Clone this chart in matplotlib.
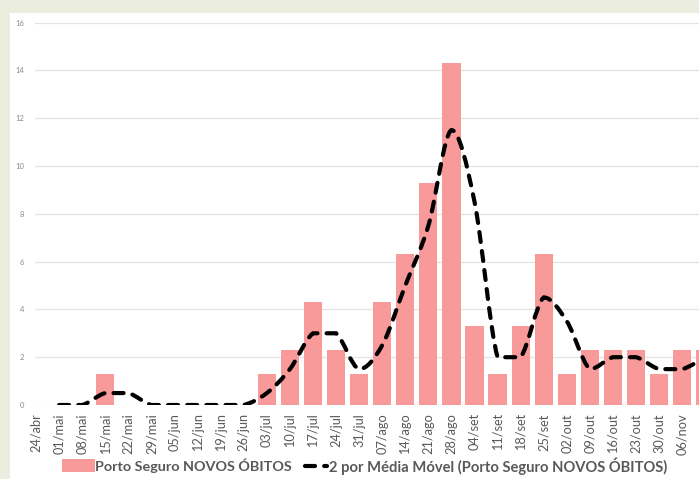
import matplotlib
matplotlib.use('Agg')
import matplotlib.pyplot as plt
from matplotlib.path import Path
from matplotlib.patches import PathPatch, Rectangle
from matplotlib.lines import Line2D

categories = ['24/abr', '01/mai', '08/mai', '15/mai', '22/mai', '29/mai', '05/jun',
              '12/jun', '19/jun', '26/jun', '03/jul', '10/jul', '17/jul', '24/jul',
              '31/jul', '07/ago', '14/ago', '21/ago', '28/ago', '04/set', '11/set',
              '18/set', '25/set', '02/out', '09/out', '16/out', '23/out', '30/out',
              '06/nov', '13/nov']
novos_obitos = [0, 0, 0, 1.3, 0, 0, 0, 0, 0, 0, 1.3, 2.3, 4.3, 2.3, 1.3, 4.3, 6.3,
                9.3, 14.3, 3.3, 1.3, 3.3, 6.3, 1.3, 2.3, 2.3, 2.3, 1.3, 2.3, 2.3]
# moving average starts at second category
media_movel = [0, 0, 0.5, 0.5, 0, 0, 0, 0, 0, 0.5, 1.5, 3, 3, 1.5, 2.5, 5, 7.5,
               11.5, 8.5, 2, 2, 4.5, 3.5, 1.5, 2, 2, 1.5, 1.5, 2]
yticks = [0, 2, 4, 6, 8, 10, 12, 14, 16]

legend_bar = 'Porto Seguro NOVOS ÓBITOS'
legend_line = '2 por Média Móvel (Porto Seguro NOVOS ÓBITOS)'

W, H = 699, 479
fig = plt.figure(figsize=(W / 100, H / 100), dpi=100)
fig.patch.set_facecolor('#EBEEDF')
fig.patches.append(Rectangle((10 / W, 0), 1, (H - 13) / H, transform=fig.transFigure,
                             facecolor='white', edgecolor='none', zorder=-5))

ax = fig.add_axes([35 / W, (H - 405) / H, (W - 35) / W, (405 - 22.5) / H])
ax.set_facecolor('none')
ax.set_zorder(2)

x = list(range(len(categories)))
ax.bar(x, novos_obitos, width=0.79, color='#F99A9A', zorder=2)

# smoothed (Excel-like) moving average line, built as cubic Bezier path
xm = x[1:1 + len(media_movel)]
pts = list(zip(xm, media_movel))
verts = [pts[0]]
codes = [Path.MOVETO]
n = len(pts)
for i in range(n - 1):
    p0 = pts[i - 1] if i > 0 else pts[i]
    p1 = pts[i]
    p2 = pts[i + 1]
    p3 = pts[i + 2] if i + 2 < n else pts[i + 1]
    lo, hi = min(p1[1], p2[1]), max(p1[1], p2[1])
    c1y = min(max(p1[1] + (p2[1] - p0[1]) / 6, lo), hi)
    c2y = min(max(p2[1] - (p3[1] - p1[1]) / 6, lo), hi)
    c1 = (p1[0] + (p2[0] - p0[0]) / 6, c1y)
    c2 = (p2[0] - (p3[0] - p1[0]) / 6, c2y)
    verts += [c1, c2, p2]
    codes += [Path.CURVE4] * 3
patch = PathPatch(Path(verts, codes), fill=False, edgecolor='black', lw=3,
                  linestyle=(0, (2.4, 2.2)), capstyle='round', zorder=3)
ax.add_patch(patch)

ax.set_xlim((35 - 36) / 23.08, (W - 36) / 23.08)
ax.set_ylim(0, 16)
ax.set_yticks(yticks)
ax.set_yticklabels([str(v) for v in yticks], fontsize=5.5, color='#8C8C8C',
                   family='Lato')
ax.set_xticks(x[:-1])
ax.set_xticklabels(categories[:-1], rotation=90, fontsize=9.2, color='#595959',
                   family='Lato')
ax.tick_params(axis='both', length=0)
ax.tick_params(axis='y', pad=8)
ax.tick_params(axis='x', pad=6)
ax.grid(axis='y', color='#E3E3E3', lw=0.9, zorder=1)
ax.set_axisbelow(True)
for s in ax.spines.values():
    s.set_visible(False)

# legend (manual placement in figure pixels)
def fx(px):
    return px / W

def fy(py):
    return (H - py) / H

fig.patches.append(Rectangle((fx(62), fy(472)), 33 / W, 13 / H, transform=fig.transFigure,
                             facecolor='#F99A9A', edgecolor='none'))
fig.text(fx(95), fy(466), legend_bar, fontsize=10.4, fontweight='bold', color='#595959',
         family='Lato', va='center', ha='left')
fig.lines.append(Line2D([fx(305), fx(327)], [fy(466), fy(466)], transform=fig.transFigure,
                        color='black', lw=3, linestyle=(0, (2.4, 2.2)),
                        dash_capstyle='round'))
fig.text(fx(329), fy(466), legend_line, fontsize=10.6, fontweight='bold', color='#595959',
         family='Lato', va='center', ha='left')

fig.savefig('out.png', dpi=100, facecolor=fig.get_facecolor())
